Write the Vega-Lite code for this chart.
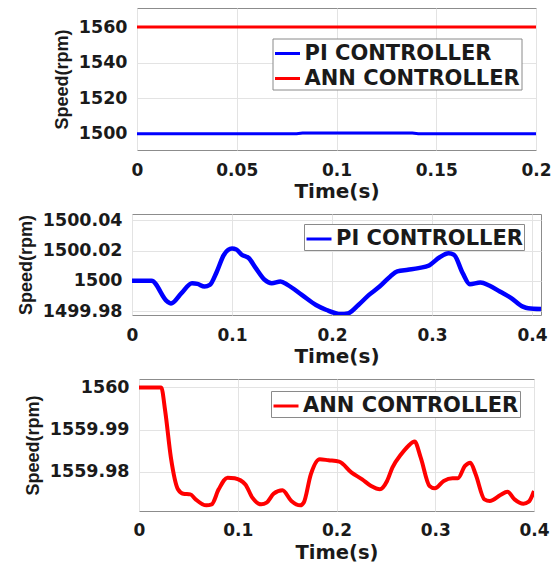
{
  "$schema": "https://vega.github.io/schema/vega-lite/v6.json",
  "padding": {"left": 16, "top": 7, "right": 2, "bottom": 0},
  "background": "white",
  "bounds": "flush",
  "center": true,
  "spacing": 64,
  "resolve": {"scale": {"color": "independent", "x": "independent", "y": "independent"}, "legend": {"color": "independent"}},
  "config": {
    "view": {"stroke": "#8c8c8c", "strokeWidth": 1},
    "axis": {"grid": true, "gridColor": "#e3e3e3", "domain": false, "ticks": false, "labelFont": "DejaVu Sans", "labelFontWeight": "bold", "labelColor": "#1a1a1a", "titleColor": "#1a1a1a", "titleFontWeight": "bold", "labelFlush": false, "labelOverlap": false},
    "axisX": {"labelFontSize": 17, "titleFont": "DejaVu Sans", "titleFontSize": 20},
    "axisY": {"labelFontSize": 17.5, "labelPadding": 10, "titleFont": "Liberation Sans", "titleFontSize": 18, "titlePadding": 7},
    "legend": {"title": null, "symbolType": "stroke", "symbolSize": 625, "symbolStrokeWidth": 3, "labelFont": "DejaVu Sans", "labelFontWeight": "bold", "labelFontSize": 21, "labelColor": "#1a1a1a", "labelOffset": 3, "labelLimit": 400, "strokeColor": "#8a8a8a", "fillColor": "white", "padding": 1, "rowPadding": 1}
  },
  "datasets": {
    "d1": [
      {"s": "PI CONTROLLER", "t": 0, "v": 1500},
      {"s": "PI CONTROLLER", "t": 0.08, "v": 1500},
      {"s": "PI CONTROLLER", "t": 0.083, "v": 1500.4},
      {"s": "PI CONTROLLER", "t": 0.138, "v": 1500.4},
      {"s": "PI CONTROLLER", "t": 0.141, "v": 1500},
      {"s": "PI CONTROLLER", "t": 0.2, "v": 1500},
      {"s": "ANN CONTROLLER", "t": 0, "v": 1560},
      {"s": "ANN CONTROLLER", "t": 0.2, "v": 1560}
    ],
    "d2": [
      {"s": "PI CONTROLLER", "t": 0, "v": 1500},
      {"s": "PI CONTROLLER", "t": 0.0195, "v": 1500},
      {"s": "PI CONTROLLER", "t": 0.0354, "v": 1499.9862},
      {"s": "PI CONTROLLER", "t": 0.039, "v": 1499.985},
      {"s": "PI CONTROLLER", "t": 0.0495, "v": 1499.9918},
      {"s": "PI CONTROLLER", "t": 0.06, "v": 1499.9984},
      {"s": "PI CONTROLLER", "t": 0.0654, "v": 1499.998},
      {"s": "PI CONTROLLER", "t": 0.0725, "v": 1499.9962},
      {"s": "PI CONTROLLER", "t": 0.0778, "v": 1499.9973},
      {"s": "PI CONTROLLER", "t": 0.0849, "v": 1500.0062},
      {"s": "PI CONTROLLER", "t": 0.092, "v": 1500.0173},
      {"s": "PI CONTROLLER", "t": 0.1, "v": 1500.0213},
      {"s": "PI CONTROLLER", "t": 0.1044, "v": 1500.0207},
      {"s": "PI CONTROLLER", "t": 0.1097, "v": 1500.0173},
      {"s": "PI CONTROLLER", "t": 0.1167, "v": 1500.0151},
      {"s": "PI CONTROLLER", "t": 0.1238, "v": 1500.0084},
      {"s": "PI CONTROLLER", "t": 0.1326, "v": 1500.0007},
      {"s": "PI CONTROLLER", "t": 0.1397, "v": 1499.9984},
      {"s": "PI CONTROLLER", "t": 0.1485, "v": 1499.9996},
      {"s": "PI CONTROLLER", "t": 0.1556, "v": 1499.9973},
      {"s": "PI CONTROLLER", "t": 0.1698, "v": 1499.9907},
      {"s": "PI CONTROLLER", "t": 0.184, "v": 1499.984},
      {"s": "PI CONTROLLER", "t": 0.1946, "v": 1499.9807},
      {"s": "PI CONTROLLER", "t": 0.2087, "v": 1499.978},
      {"s": "PI CONTROLLER", "t": 0.2158, "v": 1499.9784},
      {"s": "PI CONTROLLER", "t": 0.2264, "v": 1499.984},
      {"s": "PI CONTROLLER", "t": 0.237, "v": 1499.9907},
      {"s": "PI CONTROLLER", "t": 0.2476, "v": 1499.9962},
      {"s": "PI CONTROLLER", "t": 0.2583, "v": 1500.0029},
      {"s": "PI CONTROLLER", "t": 0.2653, "v": 1500.0062},
      {"s": "PI CONTROLLER", "t": 0.2759, "v": 1500.0073},
      {"s": "PI CONTROLLER", "t": 0.2865, "v": 1500.0084},
      {"s": "PI CONTROLLER", "t": 0.2971, "v": 1500.0102},
      {"s": "PI CONTROLLER", "t": 0.3077, "v": 1500.0156},
      {"s": "PI CONTROLLER", "t": 0.3166, "v": 1500.0182},
      {"s": "PI CONTROLLER", "t": 0.3219, "v": 1500.0173},
      {"s": "PI CONTROLLER", "t": 0.3307, "v": 1500.0051},
      {"s": "PI CONTROLLER", "t": 0.3378, "v": 1499.9978},
      {"s": "PI CONTROLLER", "t": 0.3484, "v": 1499.9989},
      {"s": "PI CONTROLLER", "t": 0.3572, "v": 1499.9969},
      {"s": "PI CONTROLLER", "t": 0.3678, "v": 1499.9929},
      {"s": "PI CONTROLLER", "t": 0.3785, "v": 1499.9889},
      {"s": "PI CONTROLLER", "t": 0.3909, "v": 1499.9829},
      {"s": "PI CONTROLLER", "t": 0.3962, "v": 1499.9818},
      {"s": "PI CONTROLLER", "t": 0.409, "v": 1499.9813}
    ],
    "d3": [
      {"s": "ANN CONTROLLER", "t": 0, "v": 1560},
      {"s": "ANN CONTROLLER", "t": 0.0225, "v": 1560},
      {"s": "ANN CONTROLLER", "t": 0.0265, "v": 1559.99444},
      {"s": "ANN CONTROLLER", "t": 0.0323, "v": 1559.98333},
      {"s": "ANN CONTROLLER", "t": 0.0395, "v": 1559.97579},
      {"s": "ANN CONTROLLER", "t": 0.0449, "v": 1559.97476},
      {"s": "ANN CONTROLLER", "t": 0.052, "v": 1559.9746},
      {"s": "ANN CONTROLLER", "t": 0.0574, "v": 1559.97341},
      {"s": "ANN CONTROLLER", "t": 0.0682, "v": 1559.97198},
      {"s": "ANN CONTROLLER", "t": 0.0736, "v": 1559.97222},
      {"s": "ANN CONTROLLER", "t": 0.0807, "v": 1559.97579},
      {"s": "ANN CONTROLLER", "t": 0.0897, "v": 1559.97857},
      {"s": "ANN CONTROLLER", "t": 0.0969, "v": 1559.97841},
      {"s": "ANN CONTROLLER", "t": 0.1076, "v": 1559.97698},
      {"s": "ANN CONTROLLER", "t": 0.1148, "v": 1559.97381},
      {"s": "ANN CONTROLLER", "t": 0.1238, "v": 1559.97222},
      {"s": "ANN CONTROLLER", "t": 0.1292, "v": 1559.97262},
      {"s": "ANN CONTROLLER", "t": 0.1364, "v": 1559.97476},
      {"s": "ANN CONTROLLER", "t": 0.1453, "v": 1559.97556},
      {"s": "ANN CONTROLLER", "t": 0.1543, "v": 1559.97302},
      {"s": "ANN CONTROLLER", "t": 0.1633, "v": 1559.97198},
      {"s": "ANN CONTROLLER", "t": 0.1668, "v": 1559.97262},
      {"s": "ANN CONTROLLER", "t": 0.174, "v": 1559.97937},
      {"s": "ANN CONTROLLER", "t": 0.183, "v": 1559.98294},
      {"s": "ANN CONTROLLER", "t": 0.1919, "v": 1559.9827},
      {"s": "ANN CONTROLLER", "t": 0.2027, "v": 1559.98238},
      {"s": "ANN CONTROLLER", "t": 0.2153, "v": 1559.97976},
      {"s": "ANN CONTROLLER", "t": 0.226, "v": 1559.97817},
      {"s": "ANN CONTROLLER", "t": 0.235, "v": 1559.97659},
      {"s": "ANN CONTROLLER", "t": 0.244, "v": 1559.97579},
      {"s": "ANN CONTROLLER", "t": 0.2512, "v": 1559.97778},
      {"s": "ANN CONTROLLER", "t": 0.2566, "v": 1559.98095},
      {"s": "ANN CONTROLLER", "t": 0.2655, "v": 1559.98413},
      {"s": "ANN CONTROLLER", "t": 0.2727, "v": 1559.98611},
      {"s": "ANN CONTROLLER", "t": 0.2791, "v": 1559.98714},
      {"s": "ANN CONTROLLER", "t": 0.2853, "v": 1559.98333},
      {"s": "ANN CONTROLLER", "t": 0.2942, "v": 1559.97659},
      {"s": "ANN CONTROLLER", "t": 0.2996, "v": 1559.97603},
      {"s": "ANN CONTROLLER", "t": 0.3086, "v": 1559.97778},
      {"s": "ANN CONTROLLER", "t": 0.3175, "v": 1559.97841},
      {"s": "ANN CONTROLLER", "t": 0.3229, "v": 1559.97841},
      {"s": "ANN CONTROLLER", "t": 0.3301, "v": 1559.98135},
      {"s": "ANN CONTROLLER", "t": 0.3355, "v": 1559.98214},
      {"s": "ANN CONTROLLER", "t": 0.3409, "v": 1559.97937},
      {"s": "ANN CONTROLLER", "t": 0.3498, "v": 1559.97341},
      {"s": "ANN CONTROLLER", "t": 0.3552, "v": 1559.97302},
      {"s": "ANN CONTROLLER", "t": 0.366, "v": 1559.97444},
      {"s": "ANN CONTROLLER", "t": 0.3731, "v": 1559.97524},
      {"s": "ANN CONTROLLER", "t": 0.3803, "v": 1559.97341},
      {"s": "ANN CONTROLLER", "t": 0.3893, "v": 1559.97238},
      {"s": "ANN CONTROLLER", "t": 0.3947, "v": 1559.97286},
      {"s": "ANN CONTROLLER", "t": 0.4, "v": 1559.9754}
    ]
  },
  "vconcat": [
    {
      "width": 399,
      "height": 142,
      "data": {"name": "d1"},
      "mark": {"type": "line", "strokeWidth": 3, "clip": true},
      "encoding": {
        "x": {"field": "t", "type": "quantitative", "scale": {"domain": [0, 0.2], "nice": false, "zero": false},
          "axis": {"values": [0, 0.05, 0.1, 0.15, 0.2], "format": "~f", "title": "Time(s)", "labelPadding": 12, "titlePadding": 3}},
        "y": {"field": "v", "type": "quantitative", "scale": {"domain": [1490.8, 1570.7], "nice": false, "zero": false},
          "axis": {"values": [1500, 1520, 1540, 1560], "format": "~f", "title": "Speed(rpm)"}},
        "color": {"field": "s", "type": "nominal", "scale": {"domain": ["PI CONTROLLER", "ANN CONTROLLER"], "range": ["#0000ff", "#ff0000"]},
          "legend": {"orient": "none", "legendX": 135.5, "legendY": 30.5}}
      }
    },
    {
      "width": 409,
      "height": 101,
      "data": {"name": "d2"},
      "mark": {"type": "line", "strokeWidth": 4.5, "interpolate": "monotone", "clip": true},
      "encoding": {
        "x": {"field": "t", "type": "quantitative", "scale": {"domain": [0, 0.409], "nice": false, "zero": false},
          "axis": {"values": [0, 0.1, 0.2, 0.3, 0.4], "format": "~f", "title": "Time(s)", "labelPadding": 12, "titlePadding": 3}},
        "y": {"field": "v", "type": "quantitative", "scale": {"domain": [1499.9774, 1500.0442], "nice": false, "zero": false},
          "axis": {"values": [1499.98, 1500, 1500.02, 1500.04], "format": "~f", "title": "Speed(rpm)"}},
        "color": {"field": "s", "type": "nominal", "scale": {"domain": ["PI CONTROLLER"], "range": ["#0000ff"]},
          "legend": {"orient": "none", "legendX": 172, "legendY": 10}}
      }
    },
    {
      "width": 395,
      "height": 132,
      "data": {"name": "d3"},
      "mark": {"type": "line", "strokeWidth": 4, "interpolate": "monotone", "clip": true},
      "encoding": {
        "x": {"field": "t", "type": "quantitative", "scale": {"domain": [0, 0.4], "nice": false, "zero": false},
          "axis": {"values": [0, 0.1, 0.2, 0.3, 0.4], "format": "~f", "title": "Time(s)", "labelPadding": 11, "titlePadding": 5, "titleFontSize": 19.5}},
        "y": {"field": "v", "type": "quantitative", "scale": {"domain": [1559.97064, 1560.00202], "nice": false, "zero": false},
          "axis": {"values": [1559.98, 1559.99, 1560], "format": "~f", "title": "Speed(rpm)"}},
        "color": {"field": "s", "type": "nominal", "scale": {"domain": ["ANN CONTROLLER"], "range": ["#ff0000"]},
          "legend": {"orient": "none", "legendX": 132, "legendY": 12}}
      }
    }
  ]
}
